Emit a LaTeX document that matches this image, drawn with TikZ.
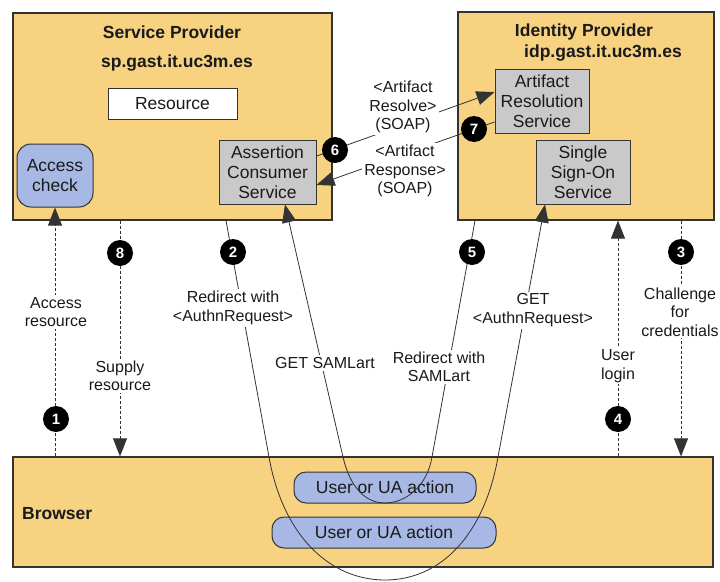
\documentclass[tikz,border=0pt]{standalone}
\usepackage{fontspec}
\setmainfont{Liberation Sans}
\usetikzlibrary{arrows.meta,calc}
\definecolor{zonefill}{HTML}{F6D281}
\definecolor{pillfill}{HTML}{A6B8E3}
\definecolor{svcfill}{HTML}{C9C9C9}
\definecolor{edge}{HTML}{333333}
\definecolor{ink}{HTML}{1A1A1A}

\begin{document}
\begin{tikzpicture}[x=1pt,y=-1pt,
  zone/.style={draw=edge, line width=1.2pt, fill=zonefill, inner sep=0pt},
  boxtext/.style={font=\fontsize{17.5}{20}\selectfont, text=ink, align=center, inner sep=0pt},
  svc/.style={boxtext, draw=edge, line width=1pt, fill=svcfill},
  pill/.style={boxtext, draw=edge, line width=1pt, fill=pillfill, rounded corners=12pt},
  title/.style={font=\bfseries\fontsize{17.5}{20}\selectfont, text=ink, inner sep=0pt},
  lbl/.style={font=\fontsize{16}{18.5}\selectfont, text=ink, align=center, fill=white, inner sep=2pt},
  num/.style={circle, fill=black, minimum size=26pt, inner sep=0pt, text=white, font=\bfseries\fontsize{15}{15}\selectfont},
  conn/.style={draw=edge, line width=0.8pt},
  dashline/.style={conn, dash pattern=on 3pt off 2pt},
  tip/.style={-{Triangle[length=18pt,width=14pt]}}
]
\useasboundingbox (0,0) rectangle (720,581);

% three zones
\node[zone, minimum width=319pt, minimum height=207pt] (sp) at (172.5,116.5) {};
\node[zone, minimum width=256pt, minimum height=208pt] (idp) at (586,116) {};
\node[zone, minimum width=700pt, minimum height=110pt] (br) at (363,512) {};

% zone titles
\node[title] (spname) at (172,32) {Service Provider};
\node[title] (sphost) at (177,63) {sp.gast.it.uc3m.es};
\node[title] (idpname) at (584,32) {Identity Provider};
\node[title] (idphost) at (603,53) {idp.gast.it.uc3m.es};
\node[title, anchor=west] (brname) at (22,514) {Browser};

% components
\node[svc, fill=white, minimum width=129pt, minimum height=31pt] (res) at (172.5,103.5) {Resource};
\node[pill, rounded corners=14pt, minimum width=76pt, minimum height=63pt] (ac) at (55,175.5) {Access\\check};
\node[svc, minimum width=97pt, minimum height=64pt] (acs) at (267.5,172) {Assertion\\Consumer\\Service};
\node[svc, minimum width=94pt, minimum height=64pt] (ars) at (542,101) {Artifact\\Resolution\\Service};
\node[svc, minimum width=94pt, minimum height=64pt] (sso) at (583,172) {Single\\Sign-On\\Service};
\node[pill, minimum width=182pt, minimum height=31pt] (ua1) at (385,487.5) {User or UA action};
\node[pill, minimum width=224pt, minimum height=31pt] (ua2) at (384,532.5) {User or UA action};

% columns of the vertical dashed messages
\path (120,0) coordinate (x8) (618,0) coordinate (x4) (681,0) coordinate (x3);

% 1, 8, 4, 3: dashed browser exchanges
\draw[dashline, tip] (br.north -| ac.south) -- (ac.south);
\draw[dashline, tip] (sp.south -| x8) -- (br.north -| x8);
\draw[dashline, tip] (br.north -| x4) -- (idp.south -| x4);
\draw[dashline, tip] (idp.south -| x3) -- (br.north -| x3);

% 6, 7: back-channel SOAP exchange
\draw[conn, tip] ($(acs.east)+(0,-16)$) -- ($(ars.west)+(0,-9)$);
\draw[conn, tip] ($(ars.west)+(0,21)$) -- ($(acs.east)+(0,13)$);

% 2: redirect through the browser to the SSO service
\coordinate (r2a) at (269,457);
\coordinate (r2b) at (385,580);
\coordinate (r2c) at (498,457);
\draw[conn, tip] ($(sp.south)+(53.5,0)$) -- (r2a)
  .. controls (283,536) and (330,580) .. (r2b)
  .. controls (440,580) and (484,536) .. (r2c)
  -- ($(sso.south)+(-38,0)$);

% 5: redirect through the browser back to the consumer service
\coordinate (r5a) at (432,457);
\coordinate (r5b) at (385,503);
\coordinate (r5c) at (343,457);
\draw[conn, tip] ($(idp.south)+(-111,0)$) -- (r5a)
  .. controls (427,487) and (405,503) .. (r5b)
  .. controls (365,503) and (350,487) .. (r5c)
  -- ($(acs.south)+(17.5,0)$);

% message labels
\node[lbl] (l1) at (56,312) {Access\\resource};
\node[lbl] (l8) at (120,376) {Supply\\resource};
\node[lbl] (l2) at (233,308) {Redirect with\\<AuthnRequest>};
\node[lbl] (l2b) at (533,310) {GET\\<AuthnRequest>};
\node[lbl] (l5) at (439,367) {Redirect with\\SAMLart};
\node[lbl] (l5b) at (325,363) {GET SAMLart};
\node[lbl] (l4) at (618,366) {User\\login};
\node[lbl] (l3) at (680,312) {Challenge\\for\\credentials};
\node[lbl] (l6) at (403,107) {<Artifact\\Resolve>\\(SOAP)};
\node[lbl] (l7) at (405,171) {<Artifact\\Response>\\(SOAP)};

% step numbers
\node[num] (n1) at (56,419) {1};
\node[num] (n2) at (233,252) {2};
\node[num] (n3) at (681,252) {3};
\node[num] (n4) at (618,419) {4};
\node[num] (n5) at (472,252) {5};
\node[num] (n6) at (335,150) {6};
\node[num] (n7) at (474,129) {7};
\node[num] (n8) at (120,253) {8};
\end{tikzpicture}
\end{document}
